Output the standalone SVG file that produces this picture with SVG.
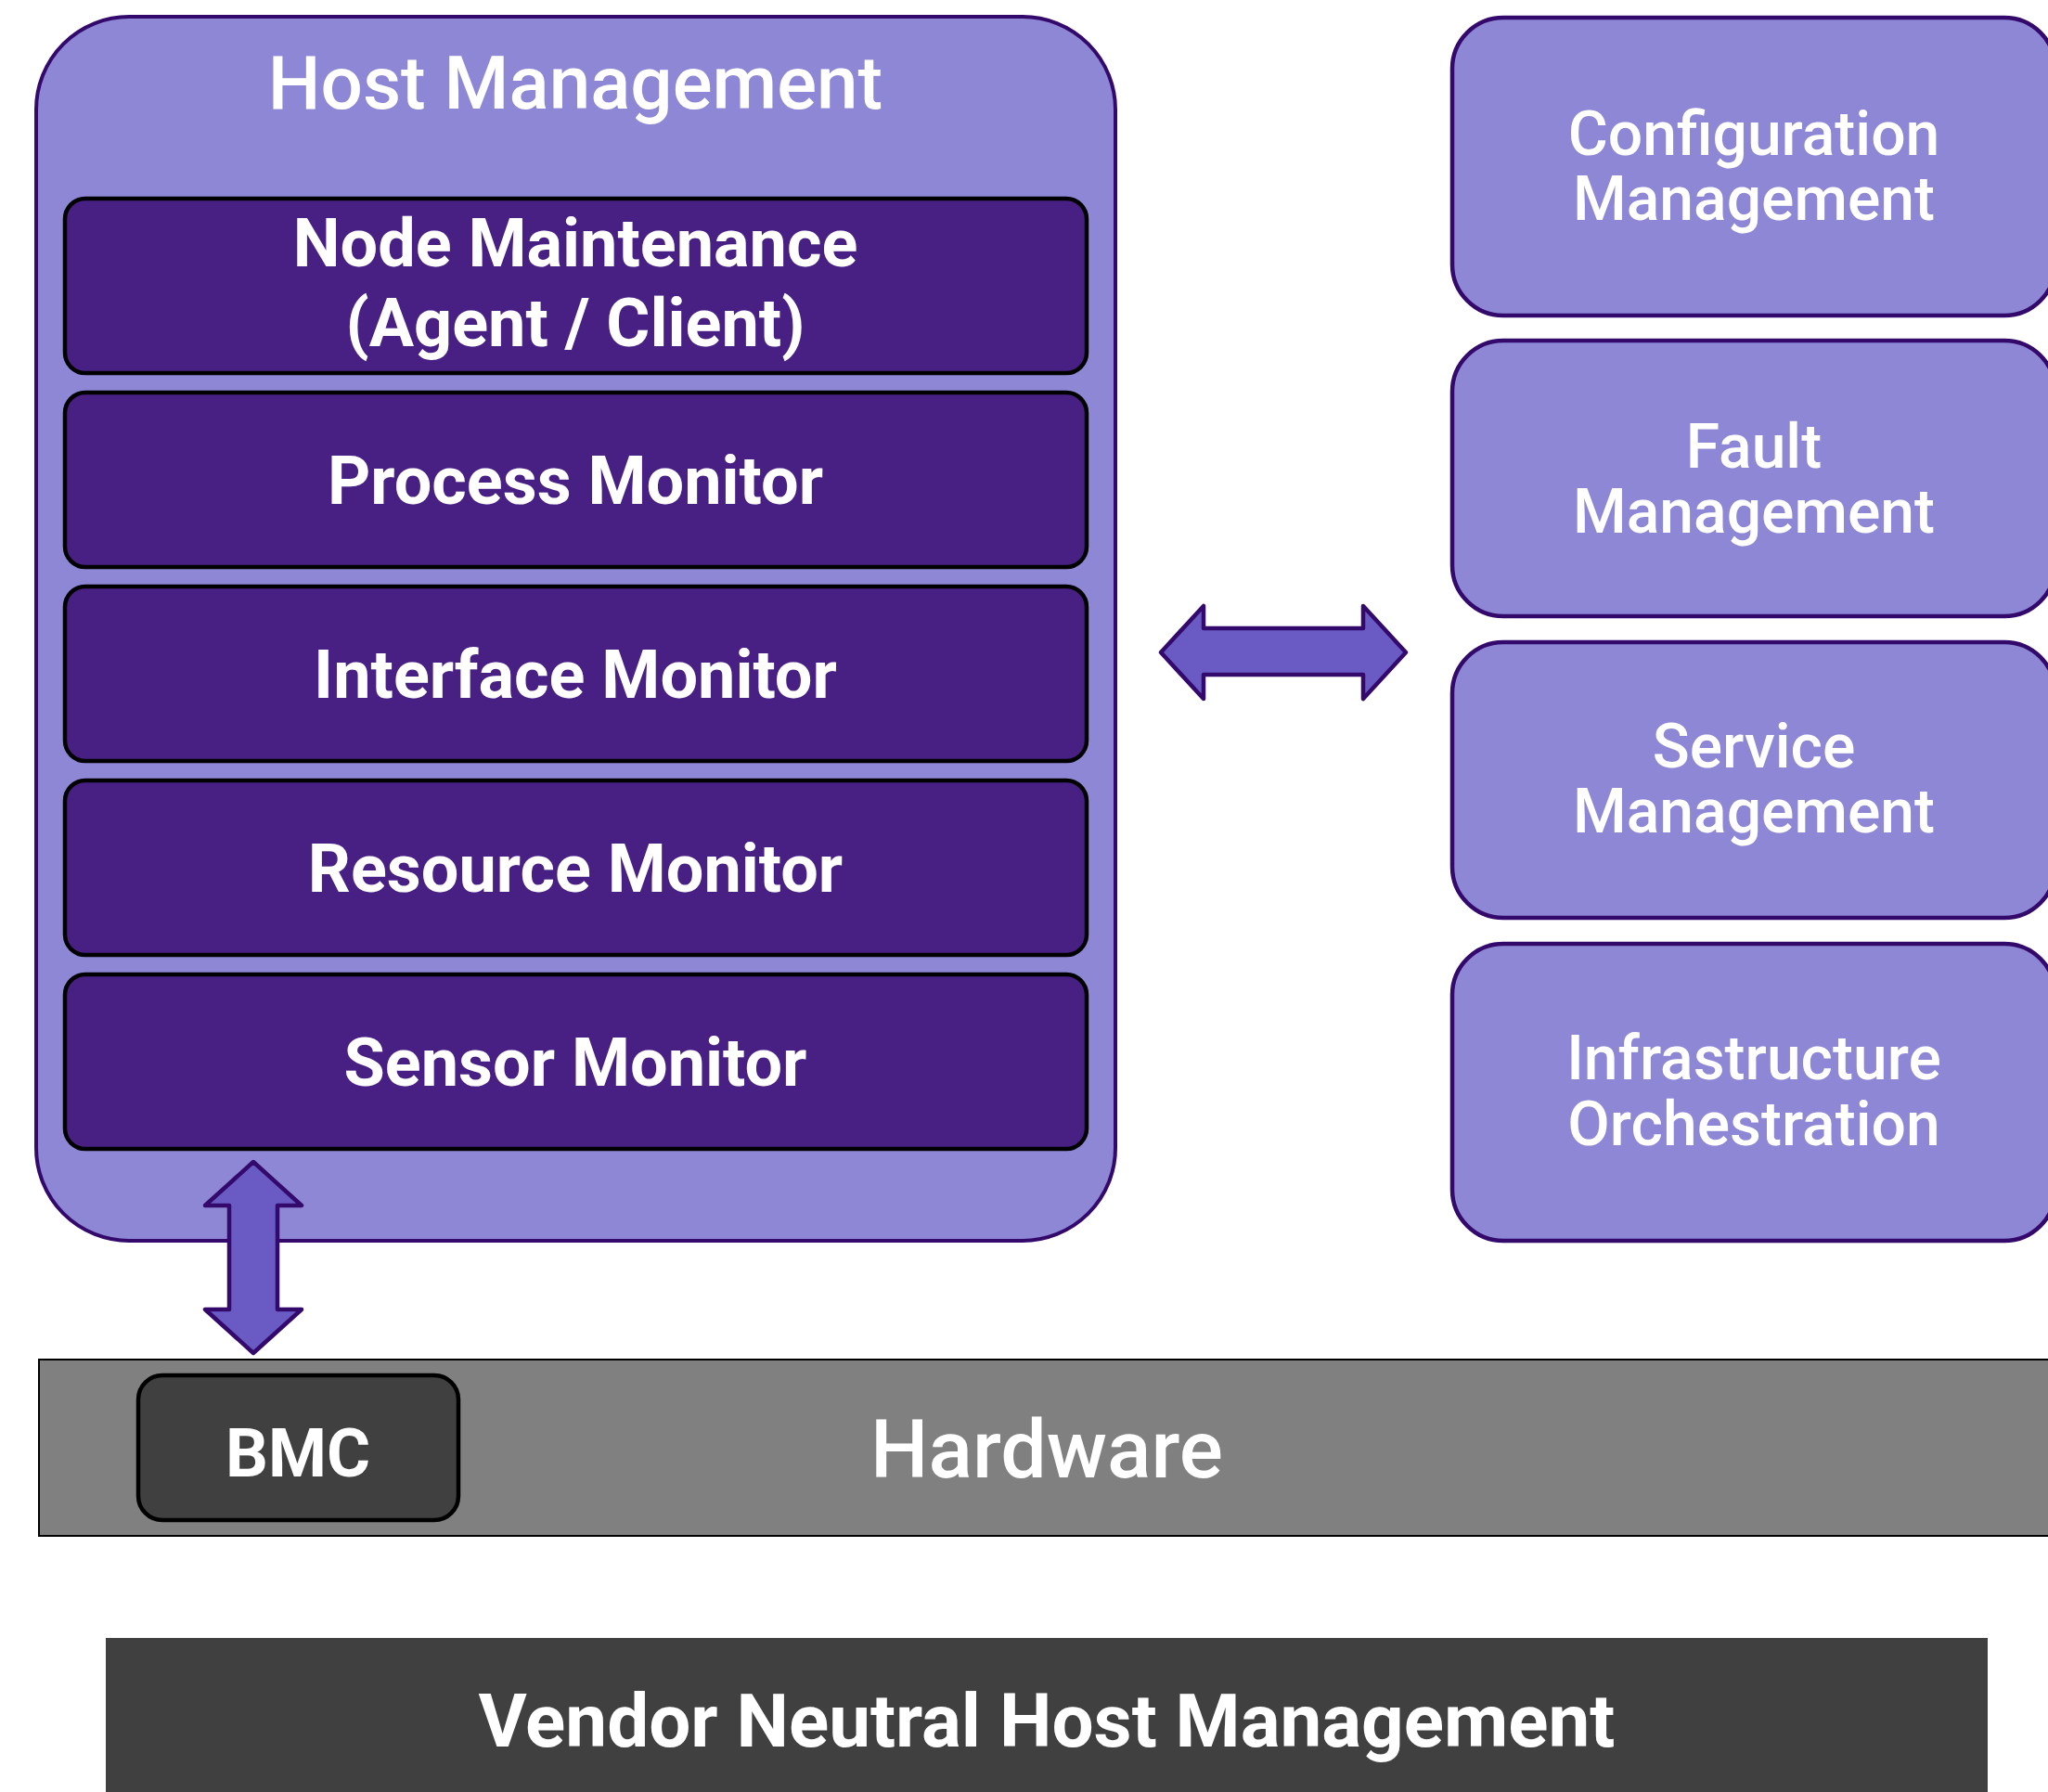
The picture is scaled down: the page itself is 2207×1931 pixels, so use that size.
<svg xmlns="http://www.w3.org/2000/svg" width="2207" height="1931" viewBox="0 0 2207 1931">
<style>
.outer{fill:#8e87d5;stroke:#330a6c;stroke-width:4}
.inner{fill:#482084;stroke:#000;stroke-width:4.5}
.side{fill:#8e87d5;stroke:#330a6c;stroke-width:4.5}
.arrow{fill:#6a5bc4;stroke:#330a6c;stroke-width:4.5;stroke-linejoin:round}
.tb{font-family:Roboto,"Liberation Sans",sans-serif;font-weight:bold;fill:#fff;text-anchor:middle}
.tr{font-family:Roboto,"Liberation Sans",sans-serif;font-weight:500;fill:#fff;text-anchor:middle}
</style>
<rect width="2207" height="1931" fill="#fff"/>
<g id="host-management">
<rect class="outer" x="39" y="18" width="1163" height="1319" rx="100" ry="100"/>
<text class="tr" x="620" y="117" font-size="80">Host Management</text>
</g>
<g id="node-maintenance">
<rect class="inner" x="70" y="214" width="1101" height="188" rx="22"/>
<text class="tb" x="620" y="287" font-size="72">Node Maintenance</text>
<text class="tb" x="620" y="373" font-size="72">(Agent / Client)</text>
</g>
<g id="process-monitor">
<rect class="inner" x="70" y="423" width="1101" height="188" rx="22"/>
<text class="tb" x="620" y="543" font-size="72">Process Monitor</text>
</g>
<g id="interface-monitor">
<rect class="inner" x="70" y="632" width="1101" height="188" rx="22"/>
<text class="tb" x="620" y="752" font-size="72">Interface Monitor</text>
</g>
<g id="resource-monitor">
<rect class="inner" x="70" y="841" width="1101" height="188" rx="22"/>
<text class="tb" x="620" y="961" font-size="72">Resource Monitor</text>
</g>
<g id="sensor-monitor">
<rect class="inner" x="70" y="1050" width="1101" height="188" rx="22"/>
<text class="tb" x="620" y="1170" font-size="72">Sensor Monitor</text>
</g>
<g id="configuration-management">
<rect class="side" x="1565" y="19" width="650" height="321" rx="55"/>
<text class="tr" x="1890" y="167" font-size="66">Configuration</text>
<text class="tr" x="1890" y="237" font-size="66">Management</text>
</g>
<g id="fault-management">
<rect class="side" x="1565" y="367" width="650" height="297" rx="55"/>
<text class="tr" x="1890" y="504" font-size="66">Fault</text>
<text class="tr" x="1890" y="574" font-size="66">Management</text>
</g>
<g id="service-management">
<rect class="side" x="1565" y="692" width="650" height="297" rx="55"/>
<text class="tr" x="1890" y="827" font-size="66">Service</text>
<text class="tr" x="1890" y="897" font-size="66">Management</text>
</g>
<g id="infrastructure-orchestration">
<rect class="side" x="1565" y="1017" width="650" height="320" rx="55"/>
<text class="tr" x="1890" y="1163" font-size="66">Infrastructure</text>
<text class="tr" x="1890" y="1234" font-size="66">Orchestration</text>
</g>
<g id="hardware">
<rect x="42" y="1465" width="2175" height="190" fill="#808080" stroke="#000" stroke-width="2"/>
<text class="tr" x="1128" y="1592" font-size="88">Hardware</text>
</g>
<g id="bmc">
<rect x="149" y="1482" width="345" height="156" rx="26" fill="#404040" stroke="#000" stroke-width="4.5"/>
<text class="tb" x="321" y="1591" font-size="72">BMC</text>
</g>
<g id="vendor-neutral">
<rect x="114" y="1765" width="2028" height="170" fill="#404040"/>
<text class="tb" x="1128" y="1882" font-size="80">Vendor Neutral Host Management</text>
</g>
<g id="connectors">
<path class="arrow" d="M1251,703 L1297,653 L1297,677 L1469,677 L1469,653 L1515,703 L1469,753 L1469,727 L1297,727 L1297,753 Z"/>
<path class="arrow" d="M273,1252 L325,1299 L299,1299 L299,1411 L325,1411 L273,1458 L221,1411 L247,1411 L247,1299 L221,1299 Z"/>
</g>
</svg>
